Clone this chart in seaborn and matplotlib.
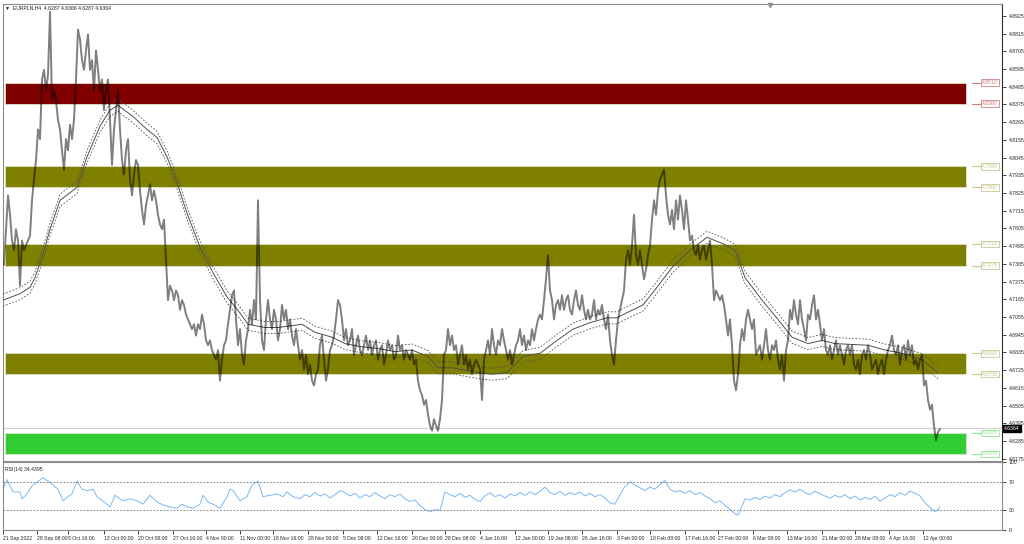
import numpy as np
import matplotlib
matplotlib.use("Agg")
import matplotlib.pyplot as plt
import seaborn as sns

# EURPLN H4 - closes (one value every 2 bars)
preco = [
    4.738, 4.760, 4.781, 4.769, 4.753, 4.747, 4.760, 4.753, 4.725, 4.753,
    4.747, 4.750, 4.753, 4.756, 4.778, 4.791, 4.803, 4.822, 4.816, 4.853,
    4.859, 4.846, 4.856, 4.895, 4.840, 4.846, 4.840, 4.828, 4.822, 4.809,
    4.797, 4.816, 4.809, 4.825, 4.816, 4.828, 4.853, 4.884, 4.878, 4.865,
    4.859, 4.871, 4.881, 4.859, 4.865, 4.846, 4.871, 4.859, 4.846, 4.853,
    4.834, 4.846, 4.853, 4.828, 4.800, 4.822, 4.834, 4.846, 4.822, 4.803,
    4.794, 4.809, 4.816, 4.791, 4.781, 4.794, 4.803, 4.800, 4.784, 4.772,
    4.763, 4.775, 4.781, 4.788, 4.778, 4.784, 4.778, 4.769, 4.763, 4.760,
    4.766, 4.741, 4.716, 4.725, 4.722, 4.716, 4.722, 4.719, 4.710, 4.716,
    4.713, 4.707, 4.704, 4.701, 4.698, 4.701, 4.694, 4.701, 4.698, 4.707,
    4.701, 4.691, 4.688, 4.691, 4.685, 4.682, 4.679, 4.685, 4.666, 4.679,
    4.688, 4.691, 4.701, 4.710, 4.719, 4.722, 4.704, 4.688, 4.698, 4.682,
    4.676, 4.691, 4.698, 4.710, 4.701, 4.716, 4.704, 4.778, 4.716, 4.691,
    4.685, 4.704, 4.716, 4.704, 4.698, 4.710, 4.704, 4.691, 4.698, 4.713,
    4.704, 4.710, 4.698, 4.704, 4.694, 4.688, 4.698, 4.688, 4.679, 4.685,
    4.673, 4.682, 4.670, 4.676, 4.666, 4.663, 4.670, 4.673, 4.688, 4.694,
    4.679, 4.666, 4.673, 4.685, 4.688, 4.694, 4.704, 4.716, 4.713, 4.704,
    4.691, 4.698, 4.688, 4.691, 4.698, 4.682, 4.688, 4.694, 4.685, 4.682,
    4.688, 4.694, 4.685, 4.691, 4.682, 4.688, 4.691, 4.679, 4.685, 4.688,
    4.676, 4.682, 4.691, 4.685, 4.688, 4.679, 4.682, 4.694, 4.685, 4.688,
    4.679, 4.685, 4.682, 4.679, 4.685, 4.676, 4.679, 4.666, 4.660, 4.657,
    4.651, 4.654, 4.645, 4.638, 4.635, 4.642, 4.638, 4.635, 4.642, 4.654,
    4.682, 4.685, 4.698, 4.688, 4.694, 4.685, 4.688, 4.676, 4.682, 4.688,
    4.676, 4.682, 4.673, 4.679, 4.670, 4.676, 4.679, 4.676, 4.673, 4.654,
    4.679, 4.685, 4.691, 4.682, 4.698, 4.688, 4.682, 4.691, 4.688, 4.698,
    4.691, 4.685, 4.679, 4.685, 4.676, 4.682, 4.688, 4.691, 4.698, 4.688,
    4.694, 4.685, 4.691, 4.688, 4.698, 4.691, 4.698, 4.704, 4.707, 4.704,
    4.716, 4.729, 4.744, 4.722, 4.716, 4.704, 4.713, 4.716, 4.710, 4.719,
    4.710, 4.716, 4.719, 4.710, 4.707, 4.716, 4.722, 4.713, 4.710, 4.719,
    4.710, 4.704, 4.710, 4.704, 4.707, 4.716, 4.704, 4.710, 4.707, 4.713,
    4.704, 4.698, 4.707, 4.691, 4.682, 4.676, 4.691, 4.704, 4.710, 4.716,
    4.722, 4.741, 4.747, 4.738, 4.750, 4.769, 4.744, 4.738, 4.747, 4.738,
    4.729, 4.735, 4.744, 4.750, 4.766, 4.778, 4.769, 4.784, 4.791, 4.794,
    4.797, 4.781, 4.769, 4.763, 4.772, 4.760, 4.778, 4.766, 4.781, 4.772,
    4.760, 4.778, 4.766, 4.753, 4.756, 4.747, 4.744, 4.750, 4.741, 4.747,
    4.750, 4.741, 4.747, 4.753, 4.738, 4.716, 4.722, 4.719, 4.716, 4.719,
    4.713, 4.704, 4.694, 4.704, 4.688, 4.666, 4.660, 4.670, 4.688, 4.698,
    4.691, 4.704, 4.710, 4.704, 4.698, 4.704, 4.682, 4.685, 4.688, 4.679,
    4.688, 4.698, 4.685, 4.679, 4.688, 4.685, 4.691, 4.679, 4.673, 4.682,
    4.666, 4.685, 4.691, 4.710, 4.704, 4.716, 4.707, 4.701, 4.716, 4.704,
    4.698, 4.691, 4.707, 4.704, 4.713, 4.719, 4.704, 4.710, 4.701, 4.691,
    4.698, 4.685, 4.682, 4.688, 4.679, 4.685, 4.691, 4.682, 4.688, 4.682,
    4.676, 4.685, 4.688, 4.682, 4.688, 4.676, 4.673, 4.679, 4.670, 4.682,
    4.685, 4.679, 4.688, 4.682, 4.673, 4.676, 4.679, 4.670, 4.676, 4.679,
    4.670, 4.679, 4.685, 4.688, 4.694, 4.685, 4.682, 4.688, 4.676, 4.685,
    4.688, 4.679, 4.691, 4.682, 4.688, 4.676, 4.679, 4.673, 4.679, 4.682,
    4.663, 4.666, 4.654, 4.648, 4.651, 4.638, 4.629, 4.634, 4.636,
]
barras = 4 + 2 * np.arange(len(preco))

# media movel (linha central do envelope)
ma_x = [3, 20, 30, 35, 40, 45, 50, 60, 77, 87, 100, 110, 118, 133, 147, 157, 167, 177, 187, 200,
        213, 227, 240, 248, 265, 278, 302, 315, 332, 345, 362, 378, 395, 412, 428, 438, 452, 478, 492, 507,
        523, 540, 557, 573, 590, 607, 617, 623, 643, 657, 673, 690, 707, 723, 735, 745, 762, 778, 792, 808,
        822, 835, 868, 885, 902, 922, 938]
ma = [4.716, 4.720, 4.724, 4.730, 4.739, 4.749, 4.760, 4.778, 4.786, 4.805,
      4.824, 4.834, 4.837, 4.830, 4.822, 4.817, 4.805, 4.789, 4.770, 4.749,
      4.733, 4.718, 4.708, 4.701, 4.699, 4.699, 4.701, 4.696, 4.693, 4.689,
      4.687, 4.686, 4.684, 4.685, 4.681, 4.674, 4.674, 4.671, 4.670, 4.671,
      4.681, 4.683, 4.691, 4.698, 4.702, 4.705, 4.705, 4.707, 4.713, 4.724,
      4.737, 4.747, 4.755, 4.751, 4.747, 4.730, 4.716, 4.704, 4.693, 4.689,
      4.691, 4.689, 4.688, 4.685, 4.683, 4.679, 4.671]
envelope = 0.0008

# RSI(14)
rsi_x = [3, 7, 13, 20, 22, 27, 32, 37, 43, 48, 53, 58, 63, 68, 72, 77, 82, 87, 93, 97, 100,
         110, 115, 123, 130, 137, 143, 150, 157, 163, 170, 177, 182, 187, 193, 200, 203, 208, 213,
         220, 227, 230, 233, 240, 247, 252, 258, 263, 270, 277, 283, 287, 293, 300,
         305, 310, 315, 320, 325, 330, 335, 340, 345, 350, 355, 360, 365, 370, 375, 380, 385, 390,
         395, 400, 405, 410, 415, 420, 425, 430, 435, 440, 445, 450, 455, 460, 465, 470, 475, 480,
         485, 490, 495, 500, 505, 510, 515, 520, 525, 530, 535, 540, 545, 550, 555, 560, 565, 570,
         575, 580, 585, 590, 595, 600, 605, 610, 615, 620, 625, 630, 635, 640, 645, 650, 655, 660,
         665, 670, 675, 680, 685, 690, 695, 700, 705, 710, 715, 720, 725, 730, 735, 738, 742, 745,
         750, 755, 760, 765, 770, 775, 780, 785, 790, 795, 800, 805, 810, 815, 820, 825, 830, 835,
         840, 845, 850, 855, 860, 865, 870, 875, 880, 885, 890, 895, 900, 905, 910, 915, 920, 925,
         930, 935, 938, 940]
rsi = [60, 74, 56, 56, 46, 53, 65, 70, 77, 72, 66, 60, 43, 49, 53, 72, 60, 58, 60, 49, 46,
       34, 51, 43, 46, 43, 38, 51, 41, 37, 34, 32, 38, 34, 32, 38, 51, 41, 38,
       32, 49, 60, 58, 43, 49, 66, 72, 49, 51, 53, 49, 56, 49, 46,
       52, 49, 55, 50, 53, 47, 52, 58, 55, 50, 54, 47, 52, 49, 55, 50, 46, 52,
       49, 53, 46, 42, 44, 36, 30, 27, 30, 29, 56, 52, 49, 54, 48, 51, 45, 42,
       50, 55, 49, 52, 47, 53, 50, 55, 51, 56, 52, 57, 63, 55, 52, 57, 51, 55,
       52, 56, 50, 54, 49, 52, 47, 40, 38, 52, 64, 71, 66, 62, 58, 63, 60, 67,
       73, 60, 56, 58, 54, 58, 52, 55, 50, 46, 40, 43, 36, 30, 24, 22, 35, 46,
       44, 48, 45, 50, 47, 52, 49, 55, 59, 56, 60, 55, 52, 57, 53, 50, 47, 51,
       48, 52, 46, 50, 44, 48, 45, 50, 42, 47, 52, 49, 55, 51, 57, 54, 50, 40,
       33, 27, 30, 34]

# zonas de suporte / resistencia
zonas_baixo = [4.8380, 4.7860, 4.7375, 4.6700, 4.6205]
zonas_topo = [4.8510, 4.7990, 4.7510, 4.6830, 4.6335]
zonas_cor = ['#800000', '#808000', '#808000', '#808000', '#32cd32']
zonas_rotulo = ['#d08080', '#c8c890', '#c8c890', '#c8c890', '#90e890']

preco_atual = 4.6364

datas_pos = [3, 37, 68, 104, 138, 173, 206, 240, 273, 308, 343, 377, 412, 445, 480, 515, 548, 582,
             617, 650, 685, 718, 753, 787, 822, 855, 889, 923]
datas = ['21 Sep 2022', '28 Sep 08:00', '5 Oct 16:00', '13 Oct 00:00', '20 Oct 08:00', '27 Oct 16:00',
         '4 Nov 00:00', '11 Nov 08:00', '18 Nov 16:00', '28 Nov 00:00', '5 Dec 08:00', '12 Dec 16:00',
         '20 Dec 00:00', '28 Dec 08:00', '4 Jan 16:00', '12 Jan 00:00', '19 Jan 08:00', '26 Jan 16:00',
         '3 Feb 00:00', '10 Feb 08:00', '17 Feb 16:00', '27 Feb 00:00', '6 Mar 08:00', '13 Mar 16:00',
         '21 Mar 00:00', '28 Mar 08:00', '4 Apr 16:00', '12 Apr 00:00']

sns.set_style('white')
plt.rcParams['font.family'] = ['Liberation Sans', 'DejaVu Sans']
fs = 3.7

fig = plt.figure(figsize=(10.24, 5.44), dpi=100)
ax = fig.add_axes([3/1024, 83/544, 999/1024, 457/544])
ax_rsi = fig.add_axes([3/1024, 14/544, 999/1024, 68/544], sharex=ax)

# zonas
for lo, hi, cor, cor_r in zip(zonas_baixo, zonas_topo, zonas_cor, zonas_rotulo):
    ax.fill_between([5, 966], lo, hi, color=cor, lw=0.6, edgecolor='#e0e0c8', zorder=1)
    for nivel in (hi, lo):
        ax.plot([972, 981], [nivel, nivel], color=cor_r, lw=0.8, zorder=2)
        ax.text(982, nivel, f'{nivel:.4f}', fontsize=fs, color=cor_r, va='center', ha='left',
                bbox=dict(boxstyle='square,pad=0.15', fc='white', ec=cor_r, lw=0.6), zorder=3)

ax.axhline(preco_atual, color='#d4d4d4', lw=0.9, zorder=1.5)

# envelope da media movel
ma_arr = np.array(ma)
ax.plot(ma_x, ma_arr, color='#505050', lw=0.7, zorder=4)
ax.plot(ma_x, ma_arr * (1 + envelope), color='#505050', lw=0.6, ls=(0, (2, 2)), zorder=4)
ax.plot(ma_x, ma_arr * (1 - envelope), color='#505050', lw=0.6, ls=(0, (2, 2)), zorder=4)

# preco
sns.lineplot(x=barras, y=preco, ax=ax, color='black', alpha=0.5, lw=1.4, zorder=5)

ax.plot(770, 4.8993, marker='v', ms=3, color='#909090', clip_on=False)

ax.set_xlim(3, 1002)
ax.set_ylim(4.6161, 4.8999)
ax.yaxis.tick_right()
ticks = np.round(4.8925 - 0.011 * np.arange(26), 4)
ax.set_yticks(ticks)
ax.set_yticklabels([f'{t:.4f}' for t in ticks])
ax.tick_params(axis='y', labelsize=fs, length=3, width=0.6, pad=2, direction='out', right=True)
ax.tick_params(axis='x', bottom=False, labelbottom=False)
ax.set_xlabel('')
ax.set_ylabel('')
for s in ax.spines.values():
    s.set_color('#8c8c8c')
    s.set_linewidth(0.8)
ax.spines['right'].set_color('#303030')

ax.text(1.002, preco_atual, f'{preco_atual:.4f}', transform=ax.get_yaxis_transform(),
        fontsize=fs, color='white', va='center', ha='left',
        bbox=dict(boxstyle='square,pad=0.2', fc='black', ec='black'), zorder=10, clip_on=False)

fig.text(5/1024, 1 - 8/544, '\u25bc  EURPLN,H4  4.6287 4.6366 4.6287 4.6364', fontsize=fs,
         va='center', ha='left', color='#202020')

# painel RSI
sns.lineplot(x=rsi_x, y=rsi, ax=ax_rsi, color='#7ab8f5', lw=0.7)
for nivel in (70, 30):
    ax_rsi.axhline(nivel, color='#707070', lw=0.6, ls=(0, (2, 2)))
ax_rsi.set_ylim(0, 100)
ax_rsi.yaxis.tick_right()
ax_rsi.set_yticks([0, 30, 70, 100])
ax_rsi.set_yticklabels(['0', '30', '70', '100'])
ax_rsi.tick_params(axis='y', labelsize=fs, length=3, width=0.6, pad=2, right=True)
ax_rsi.set_xticks(datas_pos)
ax_rsi.set_xticklabels(datas, ha='left')
ax_rsi.tick_params(axis='x', labelsize=fs, length=3, width=0.6, pad=1, bottom=True, labelbottom=True)
ax_rsi.set_xlabel('')
ax_rsi.set_ylabel('')
for s in ax_rsi.spines.values():
    s.set_color('#8c8c8c')
    s.set_linewidth(0.8)
ax_rsi.text(2/999, 0.93, 'RSI(14) 34.4395', transform=ax_rsi.transAxes, fontsize=fs,
            va='top', ha='left', color='#202020')

fig.savefig('out.png', dpi=100)
